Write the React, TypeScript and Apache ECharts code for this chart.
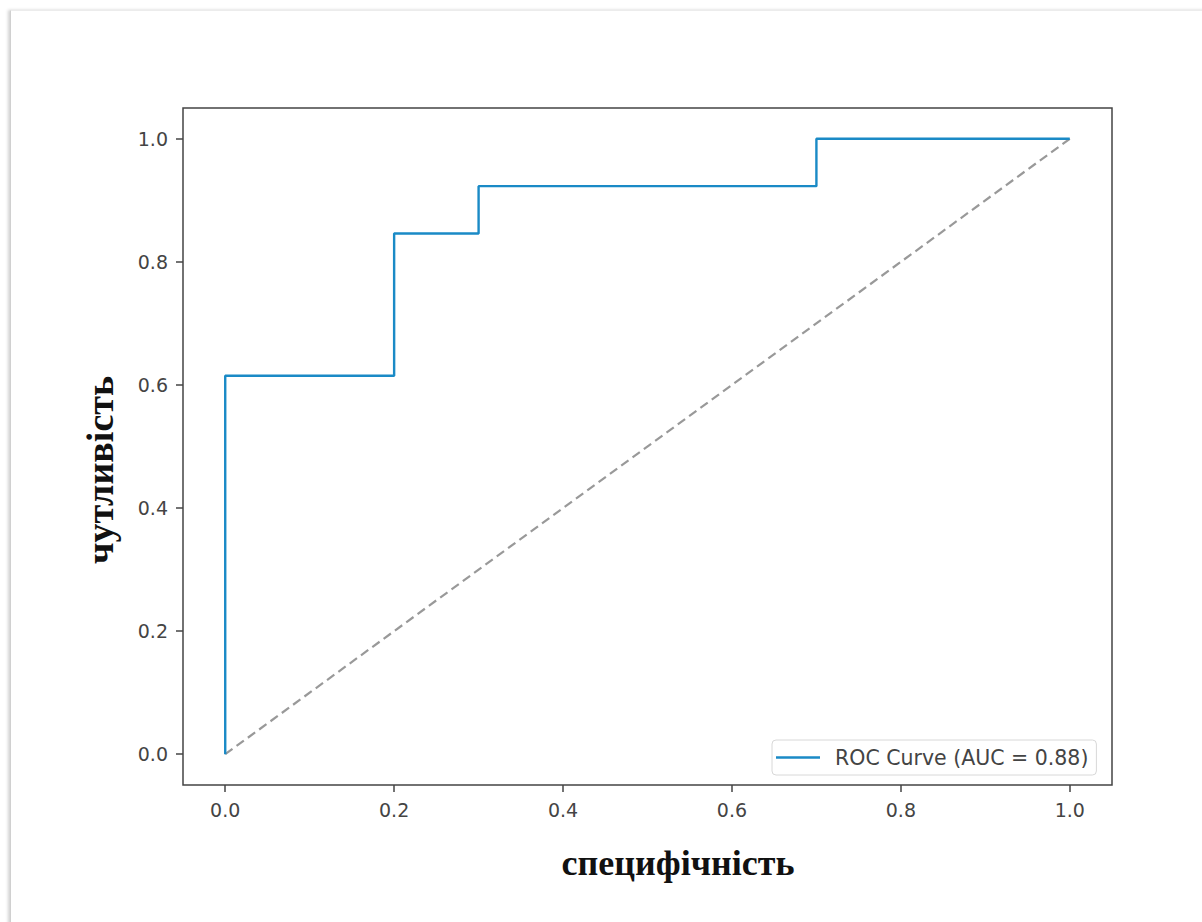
import React, { useEffect, useRef } from "react";
import * as echarts from "echarts";

const fpr = [0, 0, 0.2, 0.2, 0.3, 0.3, 0.7, 0.7, 1.0];
const tpr = [0, 0.615, 0.615, 0.846, 0.846, 0.923, 0.923, 1.0, 1.0];
const chanceX = [0, 1];
const chanceY = [0, 1];
const tickValues = [0, 0.2, 0.4, 0.6, 0.8, 1.0];
const rocName = "ROC Curve (AUC = 0.88)";
const xTitle = "специфічність";
const yTitle = "чутливість";

export default function App() {
  const ref = useRef<HTMLDivElement>(null);
  useEffect(() => {
    document.body.style.margin = "0";
    const chart = echarts.init(ref.current!, null, { renderer: "svg" });
    const tickFont = { fontFamily: "DejaVu Sans", fontSize: 19, color: "#444" };
    const axisCommon = {
      type: "value" as const,
      min: -0.05,
      max: 1.05,
      splitLine: { show: false },
      axisLine: { show: false, onZero: false },
      axisTick: {
        show: true,
        inside: false,
        customValues: tickValues,
        length: 7,
        lineStyle: { color: "#444", width: 1.5 },
      },
      axisLabel: {
        ...tickFont,
        customValues: tickValues,
        margin: 15,
        formatter: (v: number) => v.toFixed(1),
      },
    };
    chart.setOption({
      animation: false,
      backgroundColor: "transparent",
      grid: {
        left: 183,
        top: 108,
        width: 929,
        height: 677,
        show: true,
        borderColor: "#444",
        borderWidth: 1.5,
        backgroundColor: "#fff",
      },
      xAxis: { ...axisCommon, position: "bottom" },
      yAxis: { ...axisCommon, position: "left" },
      legend: {
        data: [rocName],
        left: 772,
        top: 740,
        padding: [7, 8, 7, 4],
        borderColor: "#d8d8d8",
        borderWidth: 1,
        borderRadius: 4,
        backgroundColor: "#fff",
        icon: "rect",
        itemWidth: 44,
        itemHeight: 2.5,
        itemGap: 10,
        textStyle: {
          fontFamily: "DejaVu Sans",
          fontSize: 20.5,
          color: "#444",
          padding: [0, 0, 0, 10],
        },
      },
      series: [
        {
          name: rocName,
          type: "line",
          data: fpr.map((x, i) => [x, tpr[i]]),
          showSymbol: false,
          lineStyle: { color: "#1a8ac6", width: 2.4 },
          itemStyle: { color: "#1a8ac6" },
          z: 3,
        },
        {
          name: "chance",
          type: "line",
          data: chanceX.map((x, i) => [x, chanceY[i]]),
          showSymbol: false,
          lineStyle: { color: "#999", width: 2.2, type: [9, 5] },
          itemStyle: { color: "#999" },
          z: 2,
        },
      ],
      graphic: [
        {
          type: "text",
          x: 678,
          y: 863,
          style: {
            text: xTitle,
            fontFamily: "Liberation Serif",
            fontWeight: "bold",
            fontSize: 36,
            fill: "#111",
            align: "center",
            verticalAlign: "middle",
          },
        },
        {
          type: "text",
          x: 100,
          y: 470,
          rotation: Math.PI / 2,
          style: {
            text: yTitle,
            fontFamily: "Liberation Serif",
            fontWeight: "bold",
            fontSize: 38,
            fill: "#111",
            align: "center",
            verticalAlign: "middle",
          },
        },
      ],
    });
    return () => chart.dispose();
  }, []);
  return (
    <div style={{ position: "fixed", left: 0, top: 0, width: 1202, height: 922, background: "#fff", overflow: "hidden" }}>
      <div
        style={{
          position: "absolute",
          left: 10,
          top: 10,
          width: 1300,
          height: 1000,
          borderTop: "1px solid #ececec",
          borderLeft: "1px solid #d0d0d0",
          boxShadow: "-2px 0 3px rgba(0,0,0,0.18)",
          background: "#fff",
        }}
      />
      <div ref={ref} style={{ position: "absolute", left: 0, top: 0, width: 1202, height: 922 }} />
    </div>
  );
}
